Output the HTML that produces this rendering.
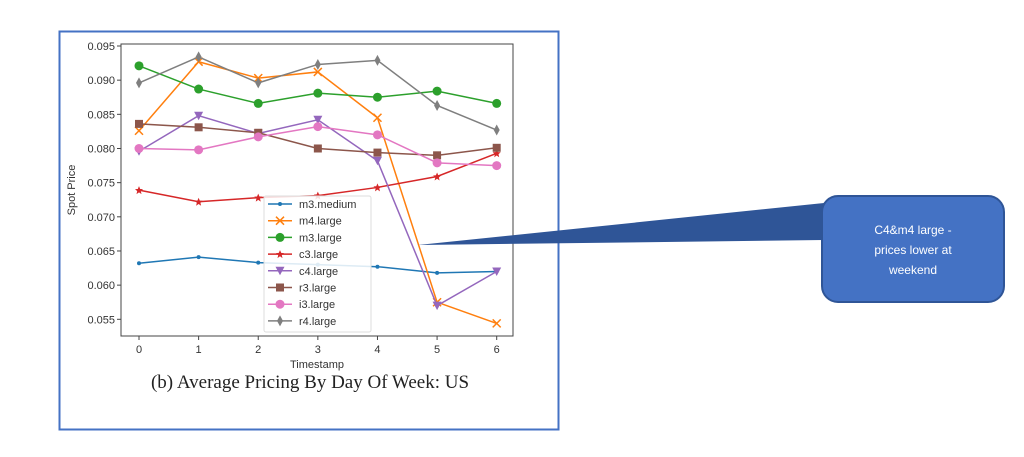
<!DOCTYPE html>
<html><head><meta charset="utf-8"><style>
body{margin:0;background:#fff;width:1024px;height:452px;overflow:hidden;font-family:"Liberation Sans",sans-serif}
</style></head><body>
<svg width="1024" height="452" xmlns="http://www.w3.org/2000/svg">
<rect x="59.5" y="31.5" width="499" height="398" fill="#fff" stroke="#4472c4" stroke-width="2"/>
<g id="chart"></g>
<text x="310" y="388" font-family="Liberation Serif,serif" font-size="19" text-anchor="middle" fill="#222">(b) Average Pricing By Day Of Week: US</text>
<polygon points="418,245 824,203 824,240" fill="#2f5597"/>
<rect x="822" y="196" width="182" height="106" rx="16" fill="#4472c4" stroke="#2f5597" stroke-width="2"/>
<text font-size="12" fill="#fff" text-anchor="middle"><tspan x="913" y="234">C4&amp;m4 large  -</tspan><tspan x="913" y="254">prices lower at</tspan><tspan x="913" y="274">weekend</tspan></text>
</svg>
<script>
const categories=[0,1,2,3,4,5,6];
const seriesNames=["m3.medium","m4.large","m3.large","c3.large","c4.large","r3.large","i3.large","r4.large"];
const m3medium=[0.0632,0.0641,0.0633,0.0630,0.0627,0.0618,0.0620];
const m4large=[0.0826,0.0927,0.0903,0.0912,0.0845,0.0575,0.0544];
const m3large=[0.0921,0.0887,0.0866,0.0881,0.0875,0.0884,0.0866];
const c3large=[0.0739,0.0722,0.0728,0.0731,0.0743,0.0759,0.0793];
const c4large=[0.0796,0.0848,0.0822,0.0842,0.0782,0.0570,0.0620];
const r3large=[0.0836,0.0831,0.0823,0.0800,0.0794,0.0790,0.0801];
const i3large=[0.0800,0.0798,0.0817,0.0832,0.0820,0.0779,0.0775];
const r4large=[0.0896,0.0934,0.0896,0.0923,0.0929,0.0863,0.0827];
const yTicks=[0.055,0.060,0.065,0.070,0.075,0.080,0.085,0.090,0.095];
const series=[m3medium,m4large,m3large,c3large,c4large,r3large,i3large,r4large];
const colors=["#1f77b4","#ff7f0e","#2ca02c","#d62728","#9467bd","#8c564b","#e377c2","#7f7f7f"];
const markers=["dot","x","o","star","tri","sq","o","dia"];
const NS="http://www.w3.org/2000/svg";
const g=document.getElementById("chart");
const L=121,R=513,T=44,B=336;
const xS=v=>139+(v-categories[0])*(496.7-139)/(categories[categories.length-1]-categories[0]);
const yS=v=>319.3-(v-0.055)*(319.3-46)/0.040;
function mk(tag,a){const e=document.createElementNS(NS,tag);for(const k in a)e.setAttribute(k,a[k]);g.appendChild(e);return e;}
const fr=mk("rect",{x:L,y:T,width:R-L,height:B-T,fill:"none",stroke:"#444","stroke-width":1});


yTicks.forEach(t=>{const y=yS(t);
const tk=mk("line",{x1:L-4,x2:L,y1:y,y2:y,stroke:"#444"});


const tx=mk("text",{x:L-6,y:y+4,"font-size":11,"text-anchor":"end",fill:"#333"});tx.textContent=t.toFixed(3);

});
categories.forEach(c=>{const x=xS(c);
const tk=mk("line",{x1:x,x2:x,y1:B,y2:B+4,stroke:"#444"});


const tx=mk("text",{x:x,y:B+17,"font-size":11,"text-anchor":"middle",fill:"#333"});tx.textContent=c;

});
const xt=mk("text",{x:317,y:368,"font-size":11,"text-anchor":"middle",fill:"#333"});xt.textContent="Timestamp";


const yt=mk("text",{x:0,y:0,"font-size":11,"text-anchor":"middle",fill:"#333",transform:"translate(75,190) rotate(-90)"});yt.textContent="Spot Price";


function marker(type,x,y,c){let e;
if(type==="dot")e=mk("circle",{cx:x,cy:y,r:2,fill:c});
else if(type==="o")e=mk("circle",{cx:x,cy:y,r:4.5,fill:c});
else if(type==="x")e=mk("path",{d:`M${x-4},${y-4}L${x+4},${y+4}M${x-4},${y+4}L${x+4},${y-4}`,stroke:c,"stroke-width":1.5,fill:"none"});
else if(type==="star")e=mk("path",{d:`M${x},${y-4}L${x+1.2},${y-1.2}L${x+4},${y-1}L${x+1.8},${y+1}L${x+2.5},${y+4}L${x},${y+2.2}L${x-2.5},${y+4}L${x-1.8},${y+1}L${x-4},${y-1}L${x-1.2},${y-1.2}Z`,fill:c});
else if(type==="tri")e=mk("path",{d:`M${x-4.5},${y-4}L${x+4.5},${y-4}L${x},${y+4.5}Z`,fill:c});
else if(type==="sq")e=mk("rect",{x:x-4,y:y-4,width:8,height:8,fill:c});
else e=mk("path",{d:`M${x},${y-5.5}L${x+3},${y}L${x},${y+5.5}L${x-3},${y}Z`,fill:c});
return e;}
series.forEach((s,i)=>{
const p=mk("polyline",{points:s.map((v,j)=>xS(categories[j])+","+yS(v)).join(" "),fill:"none",stroke:colors[i],"stroke-width":1.5});


s.forEach((v,j)=>{const m=marker(markers[i],xS(categories[j]),yS(v),colors[i]);

});});
const lg=mk("rect",{x:264,y:196,width:107,height:136,fill:"#fff","fill-opacity":0.85,stroke:"#ddd",rx:2});


seriesNames.forEach((n,i)=>{const y=204+i*16.7;
const l=mk("line",{x1:268,x2:292,y1:y,y2:y,stroke:colors[i],"stroke-width":1.5});


const m=marker(markers[i],280,y,colors[i]);


const t=mk("text",{x:299,y:y+4,"font-size":11,fill:"#333"});t.textContent=n;

});
</script>
</body></html>
